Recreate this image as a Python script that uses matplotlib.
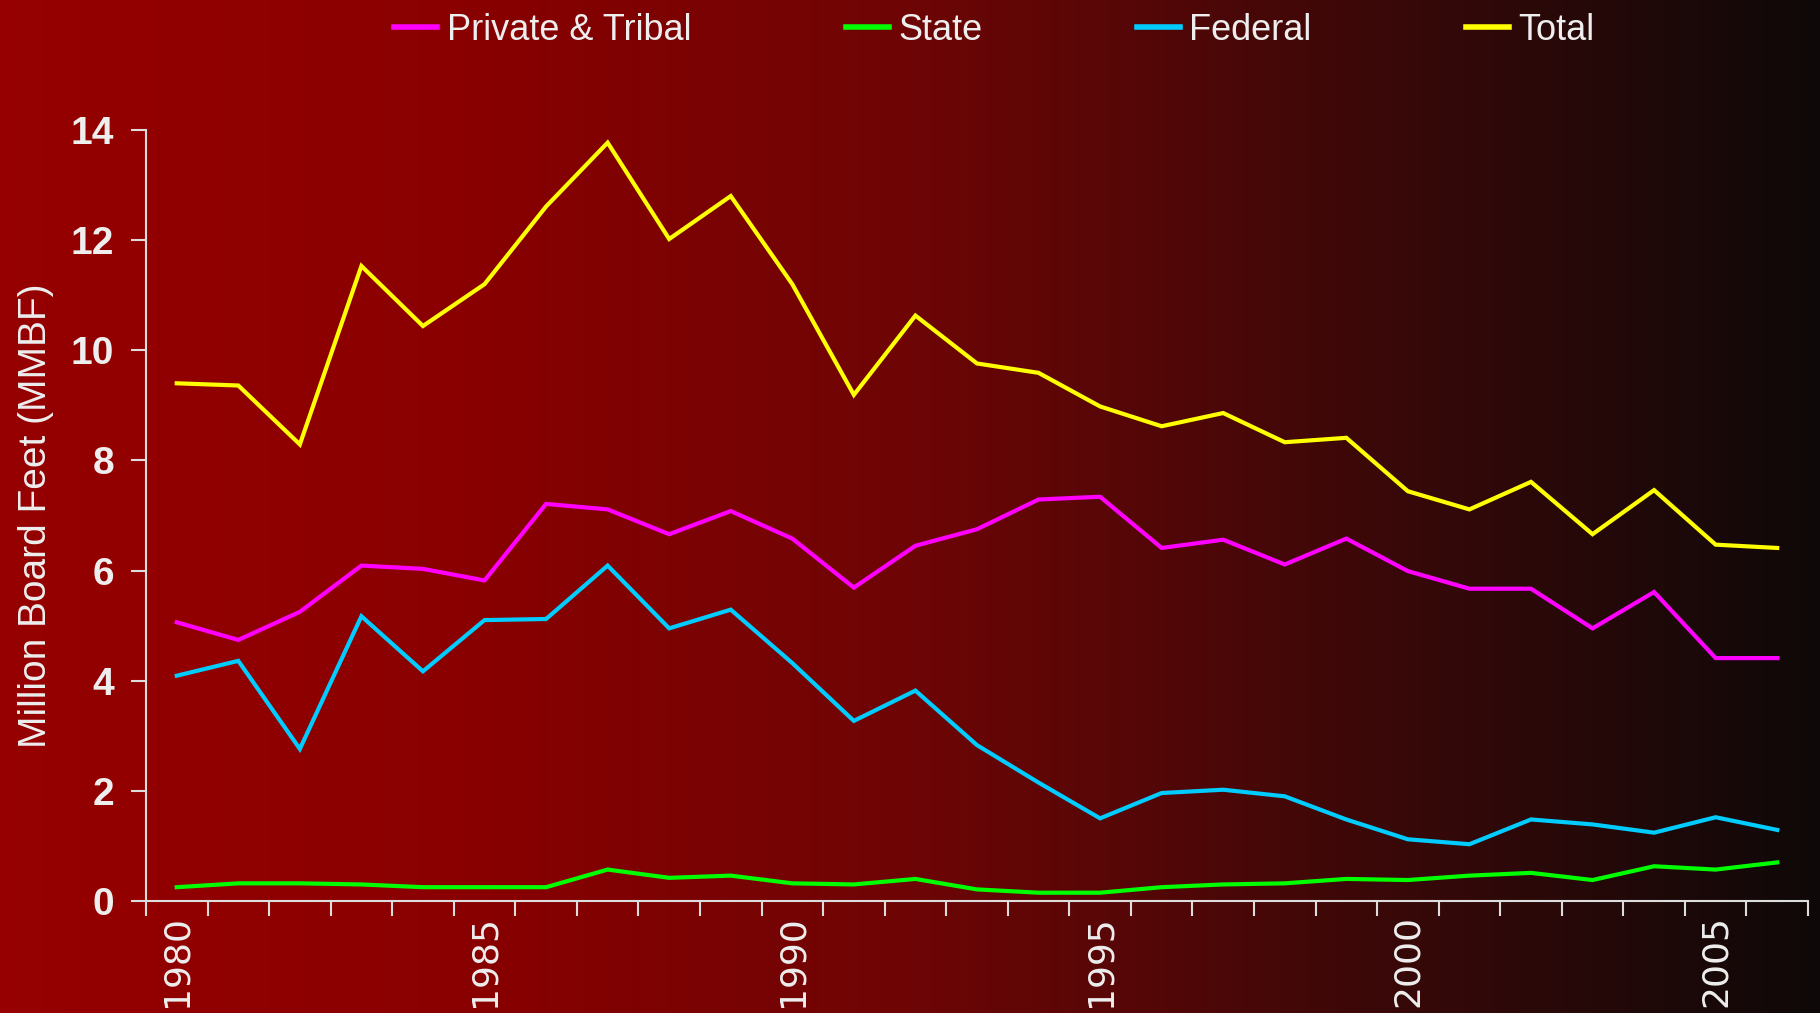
import numpy as np
import matplotlib
matplotlib.use('Agg')
import matplotlib.pyplot as plt
from matplotlib.colors import LinearSegmentedColormap

# Data (million board feet)
years = list(range(1980, 2007))
private_tribal = [5.06, 4.74, 5.25, 6.09, 6.03, 5.82, 7.21, 7.11, 6.66, 7.08, 6.58, 5.69, 6.45, 6.75,
                  7.29, 7.34, 6.41, 6.56, 6.11, 6.58, 5.99, 5.67, 5.67, 4.95, 5.61, 4.41, 4.41]
state = [0.25, 0.32, 0.32, 0.30, 0.25, 0.25, 0.25, 0.57, 0.42, 0.46, 0.32, 0.30, 0.40, 0.21,
         0.15, 0.15, 0.25, 0.30, 0.32, 0.40, 0.38, 0.46, 0.51, 0.38, 0.63, 0.57, 0.70]
federal = [4.09, 4.36, 2.76, 5.17, 4.17, 5.10, 5.12, 6.09, 4.95, 5.29, 4.32, 3.27, 3.82, 2.83,
           2.15, 1.50, 1.96, 2.02, 1.90, 1.48, 1.12, 1.03, 1.48, 1.39, 1.24, 1.52, 1.29]
total = [9.40, 9.36, 8.29, 11.53, 10.44, 11.20, 12.61, 13.77, 12.02, 12.80, 11.20, 9.19, 10.63, 9.76,
         9.59, 8.98, 8.62, 8.86, 8.33, 8.41, 7.44, 7.11, 7.61, 6.66, 7.46, 6.47, 6.41]

series = [("Private & Tribal", private_tribal, "#ff00ff"),
          ("State", state, "#00ff00"),
          ("Federal", federal, "#00ccff"),
          ("Total", total, "#ffff00")]

txt = "#eeeeee"
sans = ["Liberation Sans", "DejaVu Sans"]

fig = plt.figure(figsize=(18.2, 10.13), dpi=100)

# horizontal red-to-black gradient behind everything
bg = fig.add_axes([0, 0, 1, 1], zorder=-1)
grad = LinearSegmentedColormap.from_list("bg", [
    (0.0, (150/255, 0, 0)),
    (0.25, (138/255, 0, 0)),
    (0.5, (110/255, 5/255, 5/255)),
    (0.75, (60/255, 8/255, 8/255)),
    (1.0, (15/255, 8/255, 8/255))])
bg.imshow(np.linspace(0, 1, 512).reshape(1, -1), aspect="auto", cmap=grad, extent=[0, 1, 0, 1])
bg.axis("off")

ax = fig.add_axes([0.0802, 0.1106, 0.9132, 0.7611])
ax.patch.set_alpha(0)

for name, vals, col in series:
    ax.plot(years, vals, color=col, lw=3, label=name, solid_joinstyle="miter")

ax.set_xlim(1979.5, 2006.5)
ax.set_ylim(0, 14)
ax.set_yticks(range(0, 15, 2))

# ticks on the category boundaries, labels on the years
ax.set_xticks(np.arange(1979.5, 2007, 1))
ax.set_xticklabels([])
ax.set_xticks(range(1980, 2007, 5), minor=True)
ax.set_xticklabels([str(y) for y in range(1980, 2007, 5)], minor=True, rotation=90,
                   fontsize=26, fontfamily="DejaVu Sans", color=txt, va="top")
ax.tick_params(axis="x", which="minor", length=0, pad=10)
ax.tick_params(axis="x", which="major", length=11, width=1.5, color="#dddddd", direction="out")
ax.tick_params(axis="y", length=11, width=1.5, color="#dddddd", direction="out", pad=12,
               labelsize=28, labelcolor=txt)
for lab in ax.get_yticklabels():
    lab.set_fontfamily("Liberation Sans")
    lab.set_fontweight("bold")

for s in ["top", "right"]:
    ax.spines[s].set_visible(False)
for s in ["left", "bottom"]:
    ax.spines[s].set_color("#dddddd")
    ax.spines[s].set_linewidth(1.5)

ax.set_ylabel("Million Board Feet (MMBF)", fontsize=28, color=txt, family=sans, labelpad=12)

leg = fig.legend(loc="center", bbox_to_anchor=(0.5463, 0.970), ncol=4, frameon=False,
                 prop={"family": sans, "size": 26}, handlelength=1.19, handletextpad=0.26,
                 columnspacing=4.28, labelcolor=txt)
for h in leg.legend_handles:
    h.set_linewidth(4)

fig.savefig("out.png", dpi=100)
